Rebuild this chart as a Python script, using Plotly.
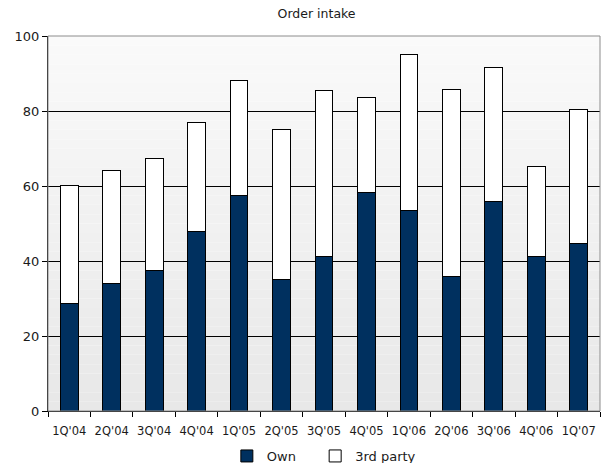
import plotly.graph_objects as go

quarters = ["1Q'04", "2Q'04", "3Q'04", "4Q'04", "1Q'05", "2Q'05", "3Q'05",
            "4Q'05", "1Q'06", "2Q'06", "3Q'06", "4Q'06", "1Q'07"]
own = [28.7, 33.9, 37.4, 48.0, 57.4, 35.1, 41.1, 58.4, 53.6, 35.9, 55.8, 41.1, 44.8]
total = [60.2, 64.1, 67.3, 77.0, 88.2, 75.0, 85.4, 83.5, 95.1, 85.7, 91.5, 65.3, 80.5]
third_party = [round(t - o, 1) for t, o in zip(total, own)]

FONT = "DejaVu Sans"

fig = go.Figure()
fig.add_trace(go.Bar(x=quarters, y=own, name="Own", legend="legend",
                     marker=dict(color="#00305f", line=dict(color="#000000", width=1))))
fig.add_trace(go.Bar(x=quarters, y=third_party, name="3rd party", legend="legend2",
                     marker=dict(color="#ffffff", line=dict(color="#000000", width=1))))

# gradient background bands
n = 40
shapes = []
for i in range(n):
    t = i / n
    v = int(round(232 + (250 - 232) * t))
    shapes.append(dict(type="rect", xref="x domain", yref="y domain",
                       x0=0, x1=1, y0=i / n, y1=(i + 1) / n,
                       fillcolor=f"rgb({v},{v},{v})", line=dict(width=0),
                       layer="below"))
shapes.append(dict(type="rect", xref="x domain", yref="y domain",
                   x0=0, x1=1, y0=0, y1=1, line=dict(color="#8c8c8c", width=1),
                   fillcolor="rgba(0,0,0,0)", layer="above"))

legend_common = dict(orientation="h", xanchor="left", y=-0.08, yanchor="top",
                     font=dict(family=FONT, size=13), itemwidth=30,
                     bgcolor="rgba(0,0,0,0)")

fig.update_layout(
    barmode="stack",
    bargap=0.58,
    width=603, height=463,
    margin=dict(l=48, r=3, t=36, b=52, autoexpand=False),
    paper_bgcolor="#ffffff",
    plot_bgcolor="rgba(0,0,0,0)",
    font=dict(family=FONT, size=12, color="#1a1a1a"),
    title=dict(text="Order intake", x=0.525, xanchor="center", y=0.97, yanchor="middle",
               font=dict(family=FONT, size=12.5, color="#1a1a1a")),
    shapes=shapes,
    showlegend=True,
    legend=dict(x=0.324, **legend_common),
    legend2=dict(x=0.484, **legend_common),
    xaxis=dict(showgrid=False, ticks="outside", tickson="boundaries", ticklen=5,
               tickcolor="#000000", showline=True, linecolor="#000000", linewidth=1,
               tickfont=dict(family=FONT, size=11.5), tickangle=0, ticklabelstandoff=9),
    yaxis=dict(range=[0, 100], dtick=20, showgrid=True, gridcolor="#000000", gridwidth=1,
               ticks="outside", ticklen=5, tickcolor="#000000", showline=True,
               linecolor="#000000", linewidth=1, zeroline=False,
               tickfont=dict(family=FONT, size=13)),
)

fig.write_html("out.html")
